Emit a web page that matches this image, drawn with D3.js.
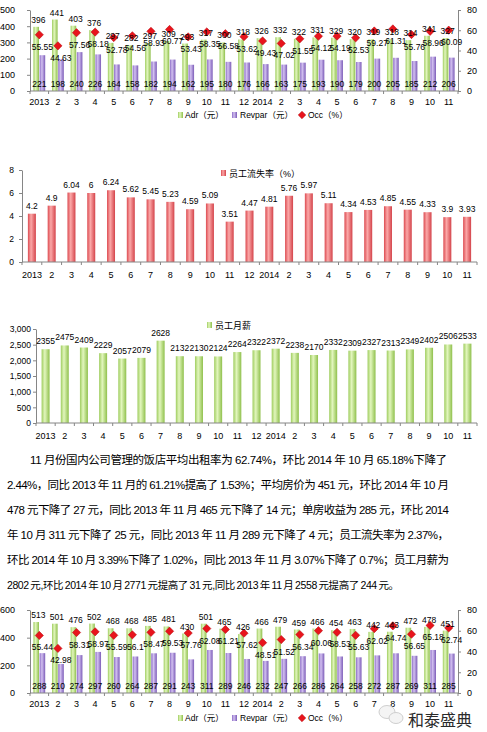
<!DOCTYPE html>
<html>
<head>
  <meta charset="UTF-8">
  <style>
    body { margin: 0; background: #fff; }
    svg { display: block; }
    text { font-family: "Liberation Sans", "Noto Sans CJK SC", sans-serif; }
  </style>
</head>
<body>
<svg width="487" height="732"></svg>

<script src="https://d3js.org/d3.v7.min.js"></script>

<script>
    // ---------- data
    const months = ["2013","2","3","4","5","6","7","8","9","10","11","12",
                    "2014","2","3","4","5","6","7","8","9","10","11"];
    const monthKeys = months.map((m, i) => i + "_" + m);

    // top combo chart
    const adrTop    = [396,441,403,376,297,282,297,309,293,317,300,318,326,332,322,331,329,320,319,318,314,341,327];
    const revparTop = [221,198,240,226,164,158,182,194,162,195,180,176,166,163,175,193,190,179,200,205,185,212,206];
    const occTop    = [55.55,44.63,57.56,58.18,52.78,54.56,58.93,60.77,53.43,58.35,56.58,53.62,49.43,47.02,51.55,54.12,54.19,52.53,59.27,61.31,55.76,58.96,60.09];

    // staff turnover (%)
    const turnover = [4.2,4.9,6.04,6,6.24,5.62,5.45,5.23,4.59,5.09,3.51,4.47,4.81,5.76,5.97,5.11,4.34,4.53,4.85,4.55,4.33,3.9,3.93];

    // staff monthly salary
    const salary = [2355,2475,2409,2229,2057,2079,2628,2132,2130,2124,2264,2322,2372,2238,2170,2332,2309,2327,2313,2349,2402,2506,2533];

    // bottom combo chart
    const adrBot    = [513,501,476,502,468,468,485,481,430,501,465,426,466,479,459,466,454,463,442,443,472,478,451];
    const revparBot = [288,210,274,297,260,264,287,291,243,311,289,246,232,247,266,286,264,258,272,287,269,311,285];
    const occBot    = [55.44,42.98,58.31,58.97,55.59,56.1,58.47,59.53,57.76,62.08,61.21,57.62,48.51,51.52,56.34,60.06,58.53,55.63,62.02,64.74,56.65,65.18,62.74];

    const paraLines = [
        "11 月份国内公司管理的饭店平均出租率为 62.74%，环比 2014 年 10 月 65.18%下降了",
        "2.44%，同比 2013 年 11 月的 61.21%提高了 1.53%；平均房价为 451 元，环比 2014 年 10 月",
        "478 元下降了 27 元，同比 2013 年 11 月 465 元下降了 14 元；单房收益为 285 元，环比 2014",
        "年 10 月 311 元下降了 25 元，同比 2013 年 11 月 289 元下降了 4 元；员工流失率为 2.37%，",
        "环比 2014 年 10 月 3.39%下降了 1.02%，同比 2013 年 11 月 3.07%下降了 0.7%；员工月薪为",
        "2802\u2009元,环比\u20092014\u2009年\u200910\u2009月\u20092771\u2009元提高了\u200931\u2009元,同比\u20092013\u2009年\u200911\u2009月\u20092558\u2009元提高了\u2009244\u2009元。"
    ];

    const axisColor = "#868686";
    const svg = d3.select("svg");

    //-------------gradients (excel style glossy bars)
    const defs = svg.append("defs");
    function grad(id, stops) {
        const lg = defs.append("linearGradient").attr("id", id)
            .attr("x1", "0%").attr("x2", "100%").attr("y1", "0%").attr("y2", "0%");
        stops.forEach(s => lg.append("stop").attr("offset", s[0]).attr("stop-color", s[1]));
    }
    grad("gGreen",  [["0%","#9fcd5f"],["40%","#e2f6bd"],["100%","#8fc04c"]]);
    grad("gPurple", [["0%","#8c6cc6"],["40%","#d2c0f0"],["100%","#7c5cb8"]]);
    grad("gRed",    [["0%","#dc4b51"],["40%","#fba8a8"],["100%","#d4434a"]]);

    function styleAxis(a, size) {
        a.select(".domain").attr("stroke", axisColor);
        a.selectAll(".tick line").attr("stroke", axisColor);
        a.selectAll(".tick text").attr("font-size", size || 9).attr("fill", "#000");
    }

    function bottomAxis(x, y0, labelY) {
        const g = svg.append("g");
        g.append("line").attr("x1", x.range()[0]).attr("x2", x.range()[1])
            .attr("y1", y0).attr("y2", y0).attr("stroke", axisColor);
        const bounds = d3.range(monthKeys.length + 1).map(i => x.range()[0] + i * x.step());
        g.selectAll("line.tk").data(bounds).enter().append("line").attr("class", "tk")
            .attr("x1", d => d).attr("x2", d => d).attr("y1", y0).attr("y2", y0 + 3)
            .attr("stroke", axisColor);
        g.selectAll("text").data(monthKeys).enter().append("text")
            .attr("x", d => x(d) + x.bandwidth() / 2).attr("y", labelY)
            .attr("text-anchor", "middle").attr("font-size", 9)
            .text((d, i) => months[i]);
    }

    function diamond(sel, size) {
        sel.attr("d", d3.symbol().type(d3.symbolSquare).size(size))
            .attr("fill", "#e8141c").attr("stroke", "#b5060d").attr("stroke-width", 0.5);
    }

    //-------------combo chart (Adr / Revpar / Occ)
    function combo(o) {
        const x = d3.scaleBand().domain(monthKeys).range([30, 458]);
        const y = d3.scaleLinear().domain([0, o.yMax]).range([o.bottom, o.top]);
        const yr = d3.scaleLinear().domain([0, 80]).range([o.bottom, o.top]);
        const cx = k => x(k) + x.bandwidth() / 2;
        const bw = 5.6;

        svg.append("g").attr("transform", "translate(30,0)")
            .call(d3.axisLeft(y).tickValues(d3.range(0, o.yMax + 1, o.yStep)).tickSize(3).tickSizeOuter(0).tickPadding(12))
            .call(a => styleAxis(a));
        svg.append("g").attr("transform", "translate(458,0)")
            .call(d3.axisRight(yr).tickValues(d3.range(0, 81, 20)).tickSize(3).tickSizeOuter(0).tickPadding(6))
            .call(a => styleAxis(a));

        const g = svg.append("g");
        g.selectAll("rect.adr").data(o.adr).enter().append("rect").attr("class", "adr")
            .attr("x", (d, i) => cx(monthKeys[i]) - bw - 0.3).attr("width", bw)
            .attr("y", d => y(d)).attr("height", d => o.bottom - y(d))
            .attr("fill", "url(#gGreen)");
        g.selectAll("rect.rev").data(o.revpar).enter().append("rect").attr("class", "rev")
            .attr("x", (d, i) => cx(monthKeys[i]) + 0.3).attr("width", bw)
            .attr("y", d => y(d)).attr("height", d => o.bottom - y(d))
            .attr("fill", "url(#gPurple)");

        bottomAxis(x, o.bottom, o.bottom + 14);

        g.selectAll("path.occ").data(o.occ).enter().append("path").attr("class", "occ")
            .attr("transform", (d, i) => `translate(${cx(monthKeys[i])},${yr(d)}) rotate(45)`)
            .call(diamond, 34);

        g.selectAll("text.adr").data(o.adr).enter().append("text").attr("class", "adr")
            .attr("x", (d, i) => cx(monthKeys[i]) - 1).attr("y", d => y(d) - 4)
            .attr("text-anchor", "middle").attr("font-size", 8.5).text(d => d);
        g.selectAll("text.rev").data(o.revpar).enter().append("text").attr("class", "rev")
            .attr("x", (d, i) => cx(monthKeys[i])).attr("y", o.bottom - 4.5)
            .attr("text-anchor", "middle").attr("font-size", 8.5).text(d => d);
        g.selectAll("text.occ").data(o.occ).enter().append("text").attr("class", "occ")
            .attr("x", (d, i) => cx(monthKeys[i]) + 3).attr("y", d => yr(d) + 15)
            .attr("text-anchor", "middle").attr("font-size", 8.5).text(d => d);

        // legend
        const lg = svg.append("g").attr("font-size", 8.5);
        lg.append("rect").attr("x", 178).attr("y", o.legendY - 3).attr("width", 5).attr("height", 6).attr("fill", "url(#gGreen)");
        lg.append("text").attr("x", 185).attr("y", o.legendY + 3).text("Adr（元）");
        lg.append("rect").attr("x", 232).attr("y", o.legendY - 3).attr("width", 5).attr("height", 6).attr("fill", "url(#gPurple)");
        lg.append("text").attr("x", 240).attr("y", o.legendY + 3).text("Revpar（元）");
        lg.append("path").attr("transform", `translate(302,${o.legendY}) rotate(45)`).call(diamond, 28);
        lg.append("text").attr("x", 308).attr("y", o.legendY + 3).text("Occ（%）");
    }

    //-------------simple bar chart
    function bars(o) {
        const x = d3.scaleBand().domain(monthKeys).range([o.left, 477]);
        const y = d3.scaleLinear().domain([0, o.yMax]).range([o.bottom, o.top]);
        const cx = k => x(k) + x.bandwidth() / 2;

        svg.append("g").attr("transform", `translate(${o.left},0)`)
            .call(d3.axisLeft(y).tickValues(d3.range(0, o.yMax + 1, o.yStep)).tickSize(3).tickSizeOuter(0).tickPadding(o.pad))
            .call(a => styleAxis(a, 8.5));

        svg.append("g").selectAll("rect").data(o.values).enter().append("rect")
            .attr("x", (d, i) => cx(monthKeys[i]) - 4).attr("width", 8)
            .attr("y", d => y(d)).attr("height", d => o.bottom - y(d))
            .attr("fill", o.fill);

        bottomAxis(x, o.bottom, o.bottom + 16);

        svg.append("g").selectAll("text").data(o.values).enter().append("text")
            .attr("x", (d, i) => cx(monthKeys[i])).attr("y", d => y(d) - 5)
            .attr("text-anchor", "middle").attr("font-size", 8.5).text(d => d);

        svg.append("rect").attr("x", o.legendX).attr("y", o.legendY - 3).attr("width", 5).attr("height", 6).attr("fill", o.fill);
        svg.append("text").attr("x", o.legendX + 8).attr("y", o.legendY + 3.5)
            .attr("font-size", 9).text(o.legend);
    }

    combo({ top: 10, bottom: 91, yMax: 500, yStep: 100, adr: adrTop, revpar: revparTop, occ: occTop, legendY: 115 });
    bars({ left: 22, top: 170, bottom: 262, yMax: 8, yStep: 2, pad: 5, values: turnover,
           fill: "url(#gRed)", legend: "员工流失率（%）", legendX: 221, legendY: 173 });
    bars({ left: 36, top: 329, bottom: 423, yMax: 3000, yStep: 500, pad: 2, values: salary,
           fill: "url(#gGreen)", legend: "员工月薪", legendX: 207, legendY: 325 });
    combo({ top: 610, bottom: 693, yMax: 600, yStep: 200, adr: adrBot, revpar: revparBot, occ: occBot, legendY: 718 });

    //-------------paragraph
    svg.append("g").selectAll("text").data(paraLines).enter().append("text")
        .attr("x", (d, i) => i === 0 ? 30 : 7)
        .attr("y", (d, i) => 463.5 + i * 25)
        .attr("textLength", (d, i) => i === 0 ? 417 : (i === 5 ? 392 : 442))
        .attr("lengthAdjust", "spacing")
        .attr("font-size", (d, i) => i === 5 ? 10.5 : 11.5)
        .attr("font-family", "'Liberation Serif', 'Noto Sans CJK SC', serif")
        .text(d => d);

    //-------------watermark
    const wm = svg.append("g");
    wm.append("ellipse").attr("cx", 387).attr("cy", 712).attr("rx", 8).attr("ry", 6.5)
        .attr("fill", "#f4f4f4").attr("stroke", "#cfcfcf");
    wm.append("ellipse").attr("cx", 396).attr("cy", 718).attr("rx", 7).attr("ry", 5.5)
        .attr("fill", "#f4f4f4").attr("stroke", "#cfcfcf");
    wm.append("text").attr("x", 408).attr("y", 726).attr("font-size", 16)
        .attr("fill", "#2a2a2a").attr("font-family", "'Noto Sans CJK SC', sans-serif")
        .text("和泰盛典");
</script>
</body>
</html>
